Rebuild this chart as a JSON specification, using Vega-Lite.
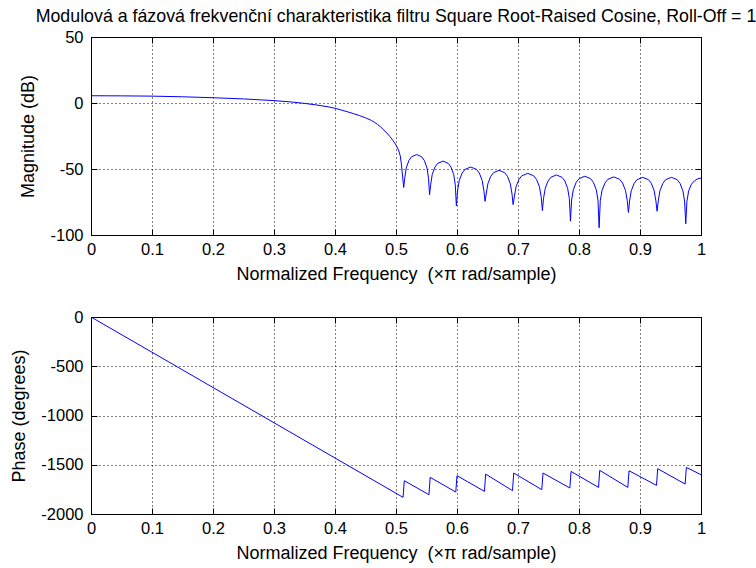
{
  "$schema": "https://vega.github.io/schema/vega-lite/v6.json",
  "background": "white",
  "padding": {"left": 10, "top": 7, "right": 0, "bottom": 0},
  "spacing": 82,
  "bounds": "flush",
  "config": {
    "font": "Liberation Sans",
    "view": {"stroke": "black", "strokeWidth": 1},
    "axis": {
      "labelFont": "Liberation Sans",
      "labelFontSize": 16.5,
      "labelColor": "black",
      "labelFlush": false,
      "labelOverlap": false,
      "titleFont": "Liberation Sans",
      "titleFontSize": 18,
      "titleFontWeight": "normal",
      "titleColor": "black",
      "tickColor": "black",
      "tickSize": -6,
      "tickWidth": 1,
      "domainColor": "black",
      "gridColor": "black",
      "gridDash": [1, 3],
      "gridOpacity": 1,
      "gridWidth": 1,
      "labelExpr": "'' + datum.value"
    },
    "axisX": {"labelPadding": 12, "titlePadding": 8},
    "axisY": {"labelPadding": 14, "titlePadding": 12},
    "title": {"font": "Liberation Sans", "fontSize": 17.8, "fontWeight": "normal", "color": "black"}
  },
  "datasets": {
    "mag": [
      {"f": 0, "db": 5.5}, {"f": 0.05, "db": 5.4}, {"f": 0.1, "db": 5.2}, {"f": 0.15, "db": 4.7},
      {"f": 0.2, "db": 4.0}, {"f": 0.25, "db": 3.1}, {"f": 0.3, "db": 1.8}, {"f": 0.33, "db": 0.7},
      {"f": 0.35, "db": -0.3}, {"f": 0.37, "db": -1.5}, {"f": 0.39, "db": -3.0}, {"f": 0.4, "db": -4.0},
      {"f": 0.41, "db": -5.3}, {"f": 0.42, "db": -6.6}, {"f": 0.43, "db": -8.0}, {"f": 0.44, "db": -9.5},
      {"f": 0.45, "db": -11.2}, {"f": 0.46, "db": -13.3}, {"f": 0.465, "db": -14.7}, {"f": 0.47, "db": -16.3},
      {"f": 0.475, "db": -18.2}, {"f": 0.48, "db": -20.4}, {"f": 0.485, "db": -22.8}, {"f": 0.49, "db": -25.4},
      {"f": 0.495, "db": -28.4}, {"f": 0.5, "db": -31.8}, {"f": 0.504, "db": -35.5}, {"f": 0.507, "db": -40},
      {"f": 0.509, "db": -47}, {"f": 0.5126, "db": -64},
      {"f": 0.5143, "db": -57}, {"f": 0.5168, "db": -49.2}, {"f": 0.5211, "db": -43.6}, {"f": 0.5253, "db": -40.8},
      {"f": 0.5338, "db": -39}, {"f": 0.5423, "db": -40.8}, {"f": 0.5465, "db": -43.6}, {"f": 0.5508, "db": -49.2},
      {"f": 0.5533, "db": -57}, {"f": 0.555, "db": -69.5},
      {"f": 0.5568, "db": -62}, {"f": 0.5594, "db": -54.2}, {"f": 0.5638, "db": -48.6}, {"f": 0.5682, "db": -45.8},
      {"f": 0.577, "db": -44}, {"f": 0.5858, "db": -45.8}, {"f": 0.5902, "db": -48.6}, {"f": 0.5946, "db": -54.2},
      {"f": 0.5972, "db": -62}, {"f": 0.599, "db": -78},
      {"f": 0.6009, "db": -66.5}, {"f": 0.6037, "db": -58.7}, {"f": 0.6084, "db": -53.1}, {"f": 0.6131, "db": -50.3},
      {"f": 0.6225, "db": -48.5}, {"f": 0.6319, "db": -50.3}, {"f": 0.6366, "db": -53.1}, {"f": 0.6413, "db": -58.7},
      {"f": 0.6441, "db": -66.5}, {"f": 0.646, "db": -74.5},
      {"f": 0.6478, "db": -69}, {"f": 0.6506, "db": -61.2}, {"f": 0.6552, "db": -55.6}, {"f": 0.6598, "db": -52.8},
      {"f": 0.669, "db": -51}, {"f": 0.6782, "db": -52.8}, {"f": 0.6828, "db": -55.6}, {"f": 0.6874, "db": -61.2},
      {"f": 0.6902, "db": -69}, {"f": 0.692, "db": -77},
      {"f": 0.6939, "db": -71.3}, {"f": 0.6968, "db": -63.5}, {"f": 0.7016, "db": -57.9}, {"f": 0.7064, "db": -55.1},
      {"f": 0.716, "db": -53.3}, {"f": 0.7256, "db": -55.1}, {"f": 0.7304, "db": -57.9}, {"f": 0.7352, "db": -63.5},
      {"f": 0.7381, "db": -71.3}, {"f": 0.74, "db": -81.5},
      {"f": 0.7418, "db": -72.5}, {"f": 0.7446, "db": -64.7}, {"f": 0.7492, "db": -59.1}, {"f": 0.7538, "db": -56.3},
      {"f": 0.763, "db": -54.5}, {"f": 0.7722, "db": -56.3}, {"f": 0.7768, "db": -59.1}, {"f": 0.7814, "db": -64.7},
      {"f": 0.7842, "db": -72.5}, {"f": 0.786, "db": -89.5},
      {"f": 0.7879, "db": -73.5}, {"f": 0.7907, "db": -65.7}, {"f": 0.7954, "db": -60.1}, {"f": 0.8001, "db": -57.3},
      {"f": 0.8095, "db": -55.5}, {"f": 0.8189, "db": -57.3}, {"f": 0.8236, "db": -60.1}, {"f": 0.8283, "db": -65.7},
      {"f": 0.8311, "db": -73.5}, {"f": 0.833, "db": -94.5},
      {"f": 0.8349, "db": -74}, {"f": 0.8378, "db": -66.2}, {"f": 0.8426, "db": -60.6}, {"f": 0.8474, "db": -57.8},
      {"f": 0.857, "db": -56}, {"f": 0.8666, "db": -57.8}, {"f": 0.8714, "db": -60.6}, {"f": 0.8762, "db": -66.2},
      {"f": 0.8791, "db": -74}, {"f": 0.881, "db": -83},
      {"f": 0.8829, "db": -74.3}, {"f": 0.8857, "db": -66.5}, {"f": 0.8904, "db": -60.9}, {"f": 0.8951, "db": -58.1},
      {"f": 0.9045, "db": -56.3}, {"f": 0.9139, "db": -58.1}, {"f": 0.9186, "db": -60.9}, {"f": 0.9233, "db": -66.5},
      {"f": 0.9261, "db": -74.3}, {"f": 0.928, "db": -82},
      {"f": 0.9299, "db": -74.3}, {"f": 0.9327, "db": -66.5}, {"f": 0.9374, "db": -60.9}, {"f": 0.9421, "db": -58.1},
      {"f": 0.9515, "db": -56.3}, {"f": 0.9609, "db": -58.1}, {"f": 0.9656, "db": -60.9}, {"f": 0.9703, "db": -66.5},
      {"f": 0.9731, "db": -74.3}, {"f": 0.975, "db": -91.5},
      {"f": 0.9769, "db": -74.5}, {"f": 0.9797, "db": -66.7}, {"f": 0.9844, "db": -61.5}, {"f": 0.9891, "db": -59},
      {"f": 0.9938, "db": -57.6}, {"f": 1.0, "db": -56.8}
    ],
    "phase": [
      {"f": 0, "deg": 0}, {"f": 0.5116, "deg": -1831}, {"f": 0.5136, "deg": -1662},
      {"f": 0.554, "deg": -1804}, {"f": 0.556, "deg": -1628},
      {"f": 0.598, "deg": -1777}, {"f": 0.6, "deg": -1611},
      {"f": 0.645, "deg": -1770}, {"f": 0.647, "deg": -1595},
      {"f": 0.691, "deg": -1763}, {"f": 0.693, "deg": -1584},
      {"f": 0.739, "deg": -1753}, {"f": 0.741, "deg": -1584},
      {"f": 0.785, "deg": -1736}, {"f": 0.787, "deg": -1568},
      {"f": 0.832, "deg": -1730}, {"f": 0.834, "deg": -1557},
      {"f": 0.88, "deg": -1730}, {"f": 0.882, "deg": -1561},
      {"f": 0.927, "deg": -1709}, {"f": 0.929, "deg": -1540},
      {"f": 0.974, "deg": -1696}, {"f": 0.976, "deg": -1527},
      {"f": 1.0, "deg": -1601}
    ]
  },
  "vconcat": [
    {
      "width": 610,
      "height": 198,
      "title": {"text": "Modulová a fázová frekvenční charakteristika filtru Square Root-Raised Cosine, Roll-Off = 1", "anchor": "middle", "frame": "group", "offset": 3},
      "data": {"name": "mag"},
      "layer": [
        {
          "mark": {"type": "line", "color": "#0000ff", "strokeWidth": 1, "clip": true},
          "encoding": {
            "x": {"field": "f", "type": "quantitative", "scale": {"domain": [0, 1], "nice": false},
              "axis": {"orient": "bottom", "values": [0, 0.1, 0.2, 0.3, 0.4, 0.5, 0.6, 0.7, 0.8, 0.9, 1], "title": "Normalized Frequency \u00a0(×π rad/sample)"}},
            "y": {"field": "db", "type": "quantitative", "scale": {"domain": [-100, 50], "nice": false},
              "axis": {"orient": "left", "values": [-100, -50, 0, 50], "title": "Magnitude (dB)"}}
          }
        },
        {
          "mark": {"type": "line", "opacity": 0},
          "encoding": {
            "x": {"field": "f", "type": "quantitative",
              "axis": {"orient": "top", "values": [0, 0.1, 0.2, 0.3, 0.4, 0.5, 0.6, 0.7, 0.8, 0.9, 1], "labels": false, "grid": false, "domain": false, "title": null}},
            "y": {"field": "db", "type": "quantitative",
              "axis": {"orient": "right", "values": [-100, -50, 0, 50], "labels": false, "grid": false, "domain": false, "title": null}}
          }
        }
      ],
      "resolve": {"axis": {"x": "independent", "y": "independent"}}
    },
    {
      "width": 610,
      "height": 197,
      "data": {"name": "phase"},
      "layer": [
        {
          "mark": {"type": "line", "color": "#0000ff", "strokeWidth": 1, "clip": true},
          "encoding": {
            "x": {"field": "f", "type": "quantitative", "scale": {"domain": [0, 1], "nice": false},
              "axis": {"orient": "bottom", "values": [0, 0.1, 0.2, 0.3, 0.4, 0.5, 0.6, 0.7, 0.8, 0.9, 1], "title": "Normalized Frequency \u00a0(×π rad/sample)"}},
            "y": {"field": "deg", "type": "quantitative", "scale": {"domain": [-2000, 0], "nice": false},
              "axis": {"orient": "left", "values": [-2000, -1500, -1000, -500, 0], "title": "Phase (degrees)"}}
          }
        },
        {
          "mark": {"type": "line", "opacity": 0},
          "encoding": {
            "x": {"field": "f", "type": "quantitative",
              "axis": {"orient": "top", "values": [0, 0.1, 0.2, 0.3, 0.4, 0.5, 0.6, 0.7, 0.8, 0.9, 1], "labels": false, "grid": false, "domain": false, "title": null}},
            "y": {"field": "deg", "type": "quantitative",
              "axis": {"orient": "right", "values": [-2000, -1500, -1000, -500, 0], "labels": false, "grid": false, "domain": false, "title": null}}
          }
        }
      ],
      "resolve": {"axis": {"x": "independent", "y": "independent"}}
    }
  ]
}
